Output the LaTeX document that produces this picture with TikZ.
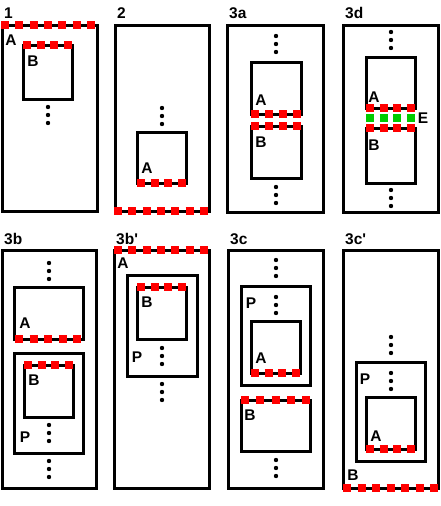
\documentclass[tikz,border=0pt]{standalone}
\usepackage{fontspec}
\setmainfont{Liberation Sans}

% three stacked dots
\newcommand{\threedots}[2]{%
  \foreach \k in {0,1,2} \fill (#1,#2+8*\k) circle (2.2);}
% n dashes spread evenly from x1 to x2 at height y
\newcommand{\seamline}[5][red]{%
  \pgfmathsetmacro\sgap{((#3-#2)-#5*8)/(#5-1)}%
  \draw[seam, #1, dash pattern=on 8pt off \sgap pt] (#2,#4) -- (#3,#4);}

\begin{document}
\begin{tikzpicture}[x=1pt, y=-1pt,
    box/.style={line width=3pt},
    seam/.style={line width=7.5pt},
    lbl/.style={font=\fontsize{15.5}{17}\selectfont\bfseries, inner sep=0pt},
    tag/.style={lbl, anchor=west}]

    \useasboundingbox (0,0) rectangle (440,506);

    % Panel 1
    \node[tag] (t1) at (4,13) {1};
    \draw[box] (2,25) rectangle (97,211);
    \draw[box] (23,45) rectangle (72,99);
    \seamline{1}{95}{25}{7}
    \seamline{23}{72}{45}{4}
    \node[lbl] (a1) at (11,40) {A};
    \node[lbl] (b1) at (33,61) {B};
    \threedots{48}{107}

    % Panel 2
    \node[tag] (t2) at (117,13) {2};
    \draw[box] (115,25) rectangle (209,211);
    \draw[box] (137,132) rectangle (186,183);
    \seamline{114}{208}{211}{7}
    \seamline{137}{186}{183}{4}
    \node[lbl] (a2) at (147,168) {A};
    \threedots{162}{108}

    % Panel 3a
    \node[tag] (t3a) at (229,13) {3a};
    \draw[box] (227,25) rectangle (323,212);
    \draw[box] (251,62) rectangle (301,114);
    \draw[box] (251,126) rectangle (301,178);
    \seamline{251}{301}{114}{4}
    \seamline{251}{301}{126}{4}
    \node[lbl] (a3a) at (261,100) {A};
    \node[lbl] (b3a) at (261,142) {B};
    \threedots{276}{36}
    \threedots{276}{187}

    % Panel 3d
    \node[tag] (t3d) at (345,13) {3d};
    \draw[box] (343,25) rectangle (438,212);
    \draw[box] (366,57) rectangle (415,108);
    \draw[box] (366,128) rectangle (415,183);
    \seamline{366}{415}{108}{4}
    \seamline[green!80!black]{366}{415}{118}{4}
    \seamline{366}{415}{128}{4}
    \node[lbl] (a3d) at (374,97) {A};
    \node[lbl] (b3d) at (374,145) {B};
    \node[lbl] (e3d) at (423,118) {E};
    \threedots{391}{32}
    \threedots{391}{190}

    % Panel 3b
    \node[tag] (t3b) at (4,239) {3b};
    \draw[box] (2,250) rectangle (96,488);
    \draw[box] (14,287) rectangle (83,339);
    \draw[box] (14,353) rectangle (83,453);
    \draw[box] (24,365) rectangle (73,417);
    \seamline{15}{81}{339}{5}
    \seamline{24}{73}{365}{4}
    \node[lbl] (a3b) at (25,323) {A};
    \node[lbl] (b3b) at (34,380) {B};
    \node[lbl] (p3b) at (25,437) {P};
    \threedots{49}{263}
    \threedots{49}{425}
    \threedots{49}{461}

    % Panel 3b'
    \node[tag] (t3bp) at (116,239) {3b\textquotesingle};
    \draw[box] (114,250) rectangle (209,488);
    \draw[box] (127,275) rectangle (197,376);
    \draw[box] (137,287) rectangle (186,339);
    \seamline{114}{208}{250}{7}
    \seamline{137}{186}{287}{4}
    \node[lbl] (a3bp) at (123,263) {A};
    \node[lbl] (b3bp) at (147,302) {B};
    \node[lbl] (p3bp) at (137,357) {P};
    \threedots{162}{348}
    \threedots{162}{384}

    % Panel 3c
    \node[tag] (t3c) at (230,239) {3c};
    \draw[box] (228,250) rectangle (323,488);
    \draw[box] (241,286) rectangle (310,385);
    \draw[box] (251,321) rectangle (300,373);
    \draw[box] (241,400) rectangle (310,451);
    \seamline{251}{300}{373}{4}
    \seamline{241}{310}{400}{5}
    \node[lbl] (p3c) at (251,303) {P};
    \node[lbl] (a3c) at (261,358) {A};
    \node[lbl] (b3c) at (250,415) {B};
    \threedots{276}{260}
    \threedots{276}{297}
    \threedots{276}{460}

    % Panel 3c'
    \node[tag] (t3cp) at (345,239) {3c\textquotesingle};
    \draw[box] (343,250) rectangle (438,488);
    \draw[box] (356,362) rectangle (425,461);
    \draw[box] (366,397) rectangle (415,449);
    \seamline{343}{438}{488}{7}
    \seamline{366}{415}{449}{4}
    \node[lbl] (p3cp) at (365,379) {P};
    \node[lbl] (a3cp) at (376,436) {A};
    \node[lbl] (b3cp) at (353,475) {B};
    \threedots{391}{337}
    \threedots{391}{373}

\end{tikzpicture}
\end{document}
